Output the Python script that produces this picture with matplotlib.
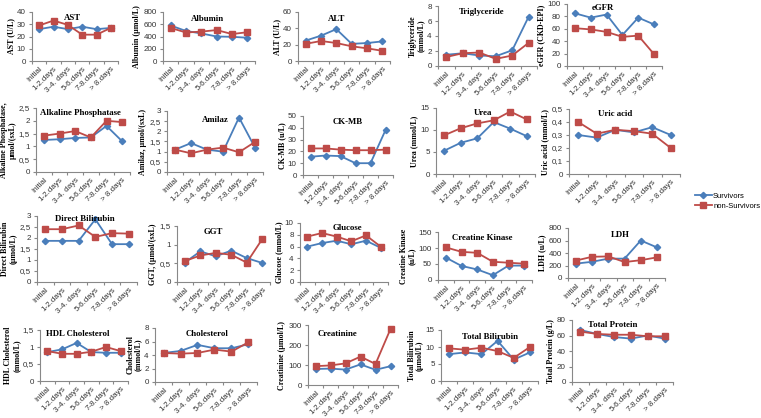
import matplotlib
matplotlib.use('Agg')
from matplotlib import pyplot as plt
from matplotlib.ticker import FuncFormatter

W, H = 761, 418
days = ['Initial', '1-2.days', '3-4. days', '5-6.days', '7-8.days', '> 8.days']

# values (survivors / non-survivors)
ast_s = [26, 28, 26, 28, 26, 27]
ast_n = [29, 33, 29.5, 21.5, 21.5, 27]
alb_s = [580, 490, 450, 400, 395, 380]
alb_n = [540, 465, 480, 505, 440, 470]
alt_s = [25, 31, 39, 21, 22, 24]
alt_n = [21, 24.5, 22, 18, 15.5, 12.5]
tg_s = [1.5, 1.7, 1.4, 1.3, 2.1, 6.6]
tg_n = [1.2, 1.7, 1.8, 0.95, 1.4, 3.1]
egfr_s = [85, 78, 83, 50, 78, 67]
egfr_n = [61, 59, 55, 47, 49, 19]
alp_s = [1.25, 1.28, 1.33, 1.35, 1.8, 1.2]
alp_n = [1.42, 1.5, 1.6, 1.35, 2.0, 1.95]
amy_s = [1.1, 1.42, 1.1, 1.0, 2.68, 1.2]
amy_n = [1.1, 0.92, 1.1, 1.2, 0.97, 1.48]
ckmb_s = [15.5, 16.5, 16, 10, 10, 38]
ckmb_n = [22.5, 22.5, 21.5, 21, 21, 21.5]
urea_s = [5.3, 7.1, 8.1, 11.8, 10.3, 8.6]
urea_n = [8.8, 10.4, 11.5, 12.2, 14.2, 12.4]
uric_s = [0.3, 0.28, 0.34, 0.32, 0.36, 0.3]
uric_n = [0.4, 0.31, 0.34, 0.33, 0.31, 0.2]
dbil_s = [1.87, 1.87, 1.87, 2.85, 1.72, 1.72]
dbil_n = [2.4, 2.4, 2.57, 2.05, 2.22, 2.2]
ggt_s = [0.52, 0.82, 0.69, 0.84, 0.64, 0.51]
ggt_n = [0.56, 0.71, 0.78, 0.73, 0.52, 1.15]
glu_s = [6.0, 6.6, 7.0, 6.4, 7.0, 5.8]
glu_n = [7.7, 8.3, 7.7, 6.9, 7.9, 6.0]
ck_s = [70, 44, 33, 15, 45, 45]
ck_n = [102, 88, 85, 57, 54, 51]
ldh_s = [230, 260, 310, 310, 600, 490]
ldh_n = [280, 340, 345, 255, 285, 330]
hdl_s = [0.85, 0.93, 1.12, 0.85, 0.83, 0.83]
hdl_n = [0.88, 0.8, 0.8, 0.86, 1.0, 0.88]
chol_s = [4.3, 4.6, 5.5, 5.0, 5.0, 5.6]
chol_n = [4.3, 4.2, 4.3, 4.8, 4.5, 5.9]
crea_s = [80, 82, 77, 103, 76, 94]
crea_n = [94, 98, 108, 142, 105, 280]
tbil_s = [7.9, 8.4, 7.9, 11.8, 6.3, 8.4]
tbil_n = [9.6, 9.2, 9.8, 8.8, 6.8, 10.0]
tp_s = [67, 62, 58, 56, 60, 56]
tp_n = [65, 62, 61, 61, 59, 59]

# (title, ylabel, surv, non, ymax, ystep, axes box px (l, t, r, b), title centre px)
panels = [
    ('AST', 'AST (U/L)', ast_s, ast_n, 40, 10, (32, 12, 118, 61), (72, 14)),
    ('Albumin', 'Albumin (µmol/L)', alb_s, alb_n, 800, 200, (163, 12, 255, 61), (207, 15)),
    ('ALT', 'ALT (U/L)', alt_s, alt_n, 60, 20, (298, 12, 390, 61), (337, 15)),
    ('Triglyceride', 'Triglyceride\n(mmol/L)', tg_s, tg_n, 8, 2, (438, 6, 537, 66), (482, 8)),
    ('eGFR', 'eGFR (CKD-EPI)', egfr_s, egfr_n, 100, 20, (567, 4, 662, 66), (603, 4)),
    ('Alkaline Phosphatase', 'Alkaline Phosphatase,\nµmol/(sxL)', alp_s, alp_n, 2.5, 0.5, (36, 108, 130, 172), (80, 109)),
    ('Amilaz', 'Amilaz, µmol/(sxL)', amy_s, amy_n, 3, 0.5, (167, 111, 263, 172), (215, 116)),
    ('CK-MB', 'CK-MB (u/L)', ckmb_s, ckmb_n, 50, 10, (303, 116, 393, 175), (348, 118)),
    ('Urea', 'Urea (mmol/L)', urea_s, urea_n, 15, 5, (436, 108, 535, 174), (483, 109)),
    ('Uric acid', 'Uric acid (mmol/L)', uric_s, uric_n, 0.5, 0.1, (569, 109, 680, 174), (615, 110)),
    ('Direct Bilirubin', 'Direct Bilirubin\n(µmol/L)', dbil_s, dbil_n, 3, 0.5, (37, 216, 137, 282), (85, 215)),
    ('GGT', 'GGT, (µmol/(sxL)', ggt_s, ggt_n, 1.5, 0.5, (177, 226, 270, 282), (213, 228)),
    ('Glucose', 'Glucose (mmol/L)', glu_s, glu_n, 10, 2, (300, 223, 388, 282), (347, 224)),
    ('Creatine Kinase', 'Creatine Kinase\n(u/L)', ck_s, ck_n, 150, 50, (438, 232, 532, 280), (482, 234)),
    ('LDH', 'LDH (u/L)', ldh_s, ldh_n, 800, 200, (568, 228, 665, 278), (620, 231)),
    ('HDL Cholesterol', 'HDL Cholesterol\n(mmol/L)', hdl_s, hdl_n, 1.5, 0.5, (40, 330, 128, 381), (78, 330)),
    ('Cholesterol', 'Cholesterol\n(mmol/L)', chol_s, chol_n, 8, 2, (155, 328, 257, 382), (207, 330)),
    ('Creatinine', 'Creatinine (µmol/L)', crea_s, crea_n, 300, 100, (308, 325, 398, 385), (338, 330)),
    ('Total Bilirubin', 'Total Bilirubin\n(µmol/L)', tbil_s, tbil_n, 15, 5, (441, 330, 538, 381), (490, 333)),
    ('Total Protein', 'Total Protein (g/L)', tp_s, tp_n, 80, 20, (572, 320, 673, 382), (613, 321)),
]

blue = '#4A7EBB'
red = '#BE4B48'
serif = ['Liberation Serif', 'DejaVu Serif']
sans = ['Liberation Sans', 'DejaVu Sans']
comma = FuncFormatter(lambda v, p: f'{v:g}'.replace('.', ','))

fig = plt.figure(figsize=(W / 100, H / 100), dpi=100)

for title, ylab, surv, non, ymax, step, box, tpos in panels:
    l, t, r, b = box
    ax = fig.add_axes([l / W, 1 - b / H, (r - l) / W, (b - t) / H])
    x = list(range(len(days)))
    ax.plot(x, surv, color=blue, marker='D', markersize=3.2, linewidth=1.3)
    ax.plot(x, non, color=red, marker='s', markersize=5, linewidth=1.3)
    ax.set_xlim(-0.5, len(days) - 0.5)
    ax.set_ylim(0, ymax)
    n = int(round(ymax / step))
    ax.set_yticks([i * step for i in range(n + 1)])
    ax.yaxis.set_major_formatter(comma)
    ax.set_xticks([i - 0.5 for i in range(len(days) + 1)])
    ax.set_xticklabels([])
    ax.set_xticks(x, minor=True)
    ax.set_xticklabels(days, minor=True, rotation=45, ha='right',
                       rotation_mode='anchor', fontsize=5.8, color='#333333',
                       family=sans)
    ax.tick_params(axis='x', which='minor', length=0, pad=3)
    ax.tick_params(axis='x', which='major', length=2.5, color='#888888')
    ax.tick_params(axis='y', length=2.5, color='#888888', labelsize=5.8,
                   labelcolor='#333333', pad=2)
    for lbl in ax.get_yticklabels():
        lbl.set_family(sans)
    for s in ['top', 'right']:
        ax.spines[s].set_visible(False)
    for s in ['left', 'bottom']:
        ax.spines[s].set_color('#888888')
        ax.spines[s].set_linewidth(0.8)
    ax.set_ylabel(ylab, family=serif, fontweight='bold', fontsize=5.8, labelpad=1.5,
                  linespacing=1.0)
    fig.text(tpos[0] / W, 1 - tpos[1] / H, title, family=serif, fontweight='bold',
             fontsize=6.3, ha='center', va='top')

h1, = plt.plot([], [], color=blue, marker='D', markersize=3.2, linewidth=1.3)
h2, = plt.plot([], [], color=red, marker='s', markersize=5, linewidth=1.3)
fig.legend([h1, h2], ['Survivors', 'non-Survivors'], loc='upper left',
           bbox_to_anchor=(691 / W, 1 - 189 / H), frameon=False,
           prop={'family': sans, 'size': 5.5},
           handlelength=2.2, handletextpad=0.2, labelspacing=0.3, borderpad=0)

fig.savefig('out.png', dpi=100)
